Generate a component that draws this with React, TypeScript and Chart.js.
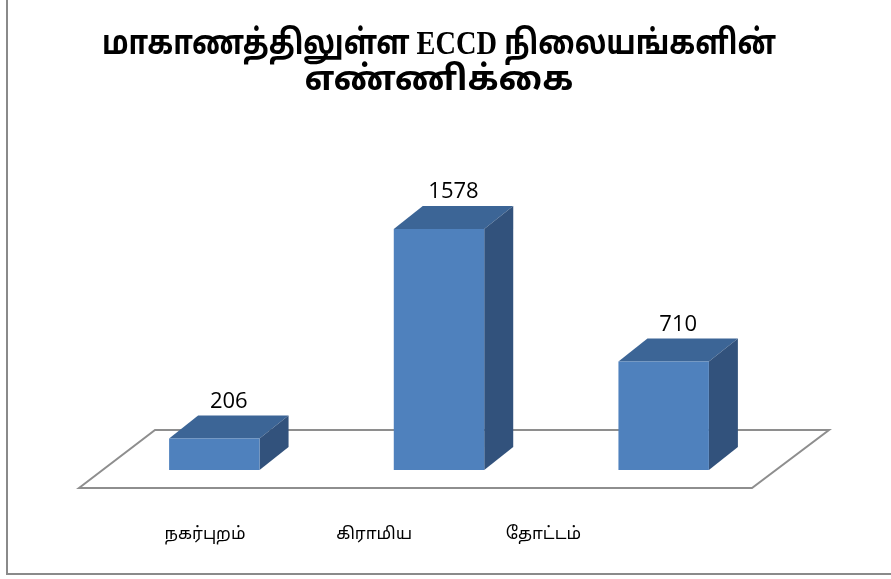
import { useEffect, useRef } from "react";
import { Chart, registerables } from "chart.js";

Chart.register(...registerables);

const titleLines = ["மாகாணத்திலுள்ள ECCD நிலையங்களின்", "எண்ணிக்கை"];
const categories = ["நகர்புறம்", "கிராமிய", "தோட்டம்"];
const values = [206, 1578, 710];
const yMin = 0;
const yMax = 1800;

const FRONT = "#4F81BD";
const TOP = "#3C6596";
const SIDE = "#32527C";
const DX = 29;
const DY = 23;
const TAMIL = "'Noto Sans Tamil', 'Lohit Tamil', 'Noto Serif Tamil', 'Noto Sans', sans-serif";

const bar3d = {
  id: "bar3d",
  beforeDatasetsDraw(chart: any) {
    const { ctx, chartArea: a, scales } = chart;
    const base = scales.y.getPixelForValue(0);
    ctx.save();
    ctx.beginPath();
    ctx.moveTo(a.left - 23, base + 18);
    ctx.lineTo(a.left + 53, base - 40);
    ctx.lineTo(a.right + 53, base - 40);
    ctx.lineTo(a.right - 24, base + 18);
    ctx.closePath();
    ctx.fillStyle = "#ffffff";
    ctx.fill();
    ctx.strokeStyle = "#8e8e8e";
    ctx.lineWidth = 2;
    ctx.stroke();
    const meta = chart.getDatasetMeta(0);
    meta.data.forEach((bar: any) => {
      const { x, y, base: b, width } = bar.getProps(["x", "y", "base", "width"], true);
      const l = x - width / 2;
      const r = x + width / 2;
      ctx.beginPath();
      ctx.moveTo(l, y);
      ctx.lineTo(l + DX, y - DY);
      ctx.lineTo(r + DX, y - DY);
      ctx.lineTo(r, y);
      ctx.closePath();
      ctx.fillStyle = TOP;
      ctx.fill();
      ctx.beginPath();
      ctx.moveTo(r, y);
      ctx.lineTo(r + DX, y - DY);
      ctx.lineTo(r + DX, b - DY);
      ctx.lineTo(r, b);
      ctx.closePath();
      ctx.fillStyle = SIDE;
      ctx.fill();
    });
    ctx.restore();
  },
  afterDraw(chart: any) {
    const { ctx, chartArea: a, scales } = chart;
    const base = scales.y.getPixelForValue(0);
    const meta = chart.getDatasetMeta(0);
    ctx.save();
    ctx.fillStyle = "#000000";
    ctx.textAlign = "center";
    ctx.textBaseline = "middle";
    meta.data.forEach((bar: any, i: number) => {
      const { x, y } = bar.getProps(["x", "y"], true);
      ctx.font = "22px 'Open Sans', sans-serif";
      ctx.fillText(String(values[i]), x + DX / 2, y - DY - 14);
      ctx.font = "17px " + TAMIL;
      const lx = a.left + 103 + (x - a.left - 112.3) * 0.753;
      ctx.fillText(categories[i], lx, base + 66);
    });
    ctx.strokeStyle = "#8a8a8a";
    ctx.lineWidth = 2;
    ctx.beginPath();
    ctx.moveTo(7, 0);
    ctx.lineTo(7, 574);
    ctx.lineTo(891, 574);
    ctx.stroke();
    ctx.restore();
  },
};

export default function App() {
  const ref = useRef<HTMLCanvasElement | null>(null);
  useEffect(() => {
    if (!ref.current) return;
    const chart = new Chart(ref.current, {
      type: "bar",
      data: {
        labels: categories,
        datasets: [
          {
            data: values,
            backgroundColor: FRONT,
            borderWidth: 0,
            barPercentage: 0.4026,
            categoryPercentage: 1,
          },
        ],
      },
      options: {
        responsive: false,
        animation: false,
        layout: { padding: { left: 102, right: 115, top: 0, bottom: 109 } },
        plugins: {
          legend: { display: false },
          tooltip: { enabled: false },
          title: {
            display: true,
            text: titleLines,
            color: "#000000",
            font: { size: 34, weight: "bold", lineHeight: 1.04, family: "'Liberation Serif', " + TAMIL },
            padding: { top: 28, bottom: 96.3 },
          },
        },
        scales: {
          x: { display: false },
          y: { display: false, min: yMin, max: yMax },
        },
      },
      plugins: [bar3d],
    });
    return () => chart.destroy();
  }, []);
  return (
    <div style={{ position: "absolute", left: 0, top: 0, width: 891, height: 579, background: "#fff" }}>
      <canvas ref={ref} width={891} height={579} />
    </div>
  );
}
